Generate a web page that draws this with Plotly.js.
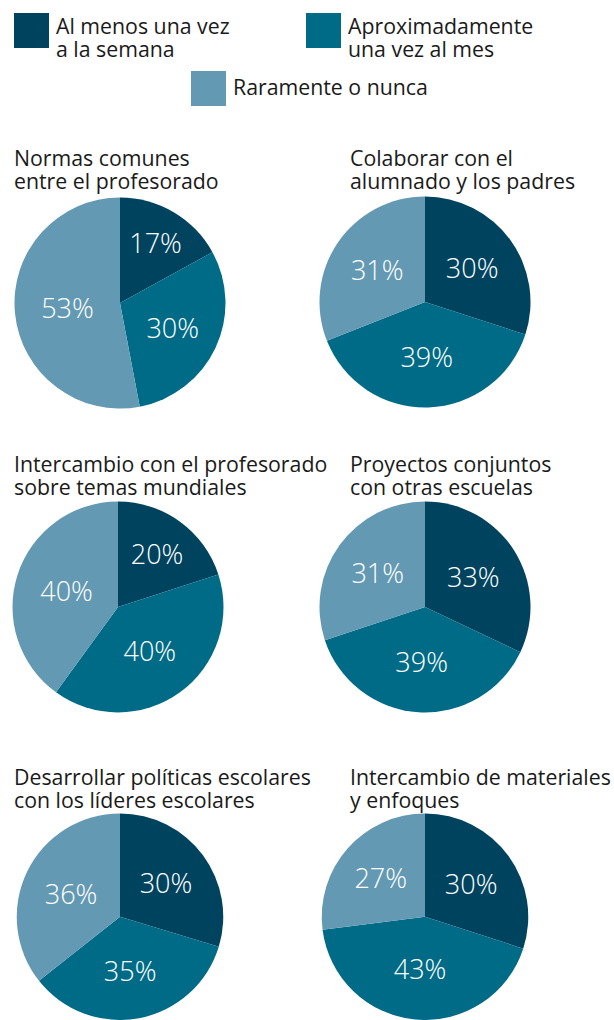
<!DOCTYPE html>
<html><head><meta charset="utf-8">
<script src="https://cdn.plot.ly/plotly-3.0.1.min.js"></script>
<style>html,body{margin:0;padding:0;background:#fff}#chart{width:614px;height:1020px}</style>
</head><body><div id="chart"></div>
<script>
// Data
const categories = ["Al menos una vez<br>a la semana", "Aproximadamente<br>una vez al mes", "Raramente o nunca"];
const colors = ["#00435f", "#006b87", "#6499b3"];
const titles = [
  "Normas comunes<br>entre el profesorado",
  "Colaborar con el<br>alumnado y los padres",
  "Intercambio con el profesorado<br>sobre temas mundiales",
  "Proyectos conjuntos<br>con otras escuelas",
  "Desarrollar políticas escolares<br>con los líderes escolares",
  "Intercambio de materiales<br>y enfoques"
];
const normasComunes = [17, 30, 53];
const colaborar = [30, 39, 31];
const intercambioMundial = [20, 40, 40];
const proyectos = [33, 39, 31];
const politicas = [30, 35, 36];
const materiales = [30, 43, 27];
const allValues = [normasComunes, colaborar, intercambioMundial, proyectos, politicas, materiales];

// Layout geometry (pixels)
const W = 614, H = 1020;
const centers = [[120, 303], [425, 302], [118, 607], [425, 607], [120, 919], [425, 919]];
const R = 105.5;
const titleBase = [166, 166, 472, 472, 785, 785];
const titleX = [14, 350, 14, 350, 14, 350];
const LINE = 22.5;
const TSIZE = 21.3;

const FONT = "Open Sans, Noto Sans, sans-serif";
const traces = allValues.map((v, i) => {
  const [cx, cy] = centers[i];
  return {
    type: "pie",
    values: v,
    labels: categories,
    sort: false,
    direction: "clockwise",
    rotation: 0,
    marker: {colors: colors, line: {width: 0}},
    texttemplate: "%{value}%",
    textposition: "inside",
    insidetextorientation: "horizontal",
    insidetextfont: {color: "#ffffff", size: 27, family: FONT, weight: 300},
    hoverinfo: "none",
    showlegend: false,
    domain: {x: [(cx - R) / W, (cx + R) / W], y: [1 - (cy + R) / H, 1 - (cy - R) / H]}
  };
});

const annotations = [];
const shapes = [];
// place one text line with its baseline at pixel y
function line(text, xPx, basePx, size) {
  annotations.push({
    text: text, xref: "paper", yref: "paper",
    x: (xPx - 2) / W, y: 1 - (basePx + 0.293 * size + 2) / H,
    xanchor: "left", yanchor: "bottom", align: "left", showarrow: false,
    font: {family: FONT, size: size, color: "#1a1a1a"}
  });
}
titles.forEach((t, i) => {
  t.split("<br>").forEach((s, k) => line(s, titleX[i], titleBase[i] + k * LINE, TSIZE));
});
// legend
const legPos = [[14, 13], [306, 13], [191, 71]];
categories.forEach((c, i) => {
  const [lx, ly] = legPos[i];
  shapes.push({type: "rect", xref: "paper", yref: "paper",
    x0: lx / W, x1: (lx + 35) / W, y0: 1 - (ly + 35) / H, y1: 1 - ly / H,
    fillcolor: colors[i], line: {width: 0}});
  const parts = c.split("<br>");
  const firstBase = parts.length === 2 ? ly + 20.5 : ly + 24;
  parts.forEach((s, k) => line(s, lx + 42, firstBase + k * 23, TSIZE));
});

Plotly.newPlot("chart", traces, {
  width: W, height: H,
  margin: {l: 0, r: 0, t: 0, b: 0},
  paper_bgcolor: "#ffffff",
  annotations: annotations, shapes: shapes,
  showlegend: false
}, {staticPlot: true});
</script></body></html>
